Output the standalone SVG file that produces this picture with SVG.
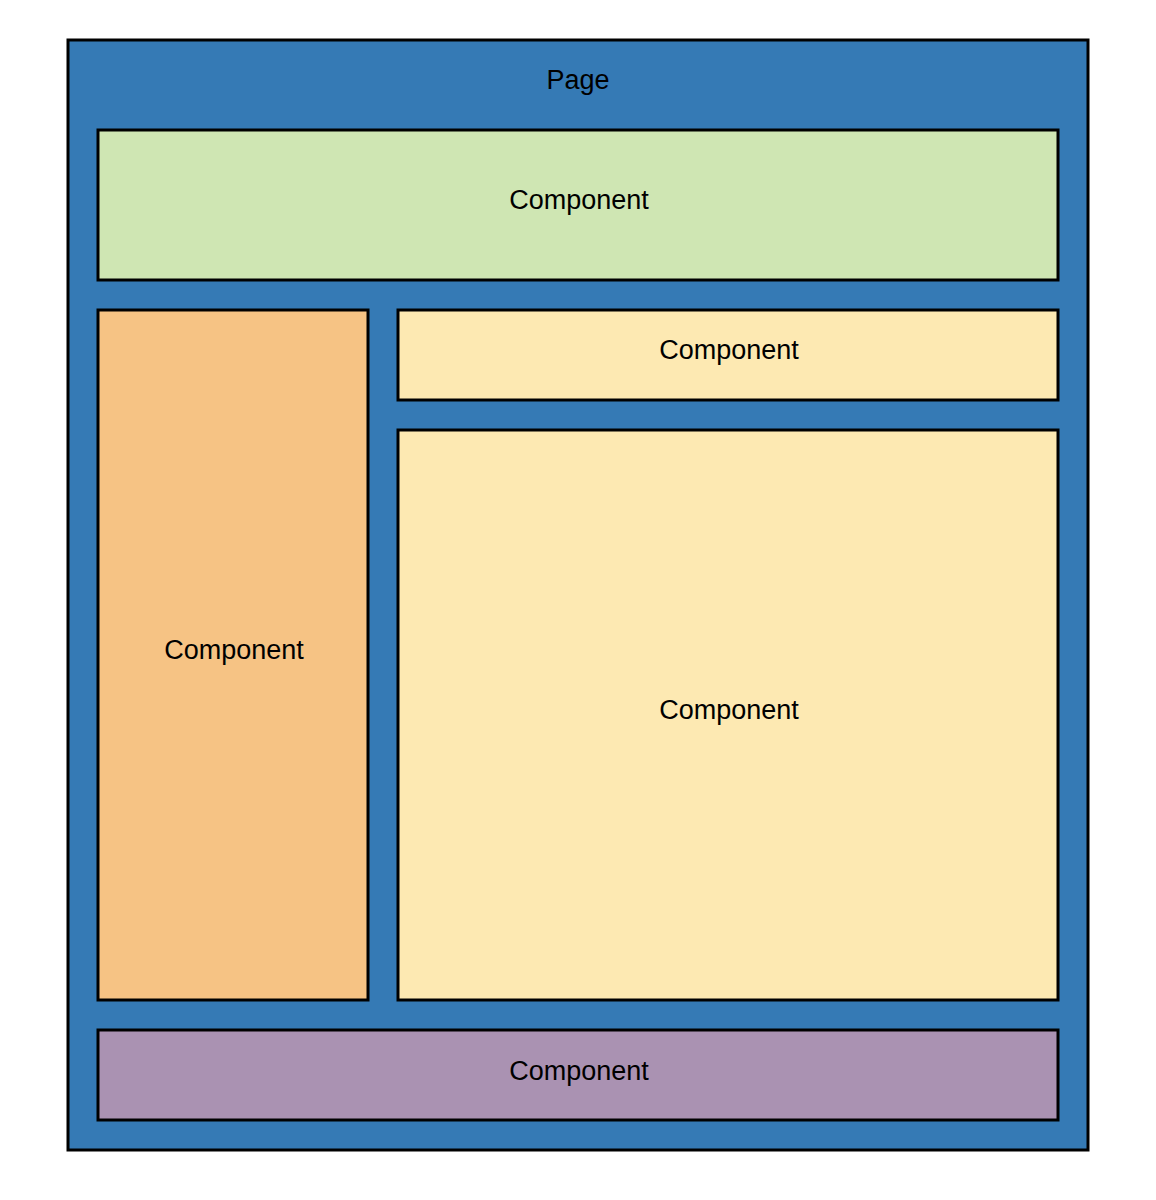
<svg xmlns="http://www.w3.org/2000/svg" width="1156" height="1200" viewBox="0 0 1156 1200">
<style>
rect{stroke:#000;stroke-width:3}
text{font-family:"Liberation Sans",Arial,sans-serif;font-size:27px;fill:#000;text-anchor:middle}
</style>
<rect width="1156" height="1200" fill="#fff" style="stroke:none"/>
<g id="page"><rect x="68" y="40" width="1020" height="1110" fill="#357ab5"/><text x="578" y="89">Page</text></g>
<g id="header"><rect x="98" y="130" width="960" height="150" fill="#cfe6b3"/><text x="579" y="209">Component</text></g>
<g id="sidebar"><rect x="98" y="310" width="270" height="690" fill="#f6c384"/><text x="234" y="659">Component</text></g>
<g id="subheader"><rect x="398" y="310" width="660" height="90" fill="#fde9b2"/><text x="729" y="359">Component</text></g>
<g id="content"><rect x="398" y="430" width="660" height="570" fill="#fde9b2"/><text x="729" y="719">Component</text></g>
<g id="footer"><rect x="98" y="1030" width="960" height="90" fill="#aa92b2"/><text x="579" y="1080">Component</text></g>
<g id="connectors"></g>
</svg>
